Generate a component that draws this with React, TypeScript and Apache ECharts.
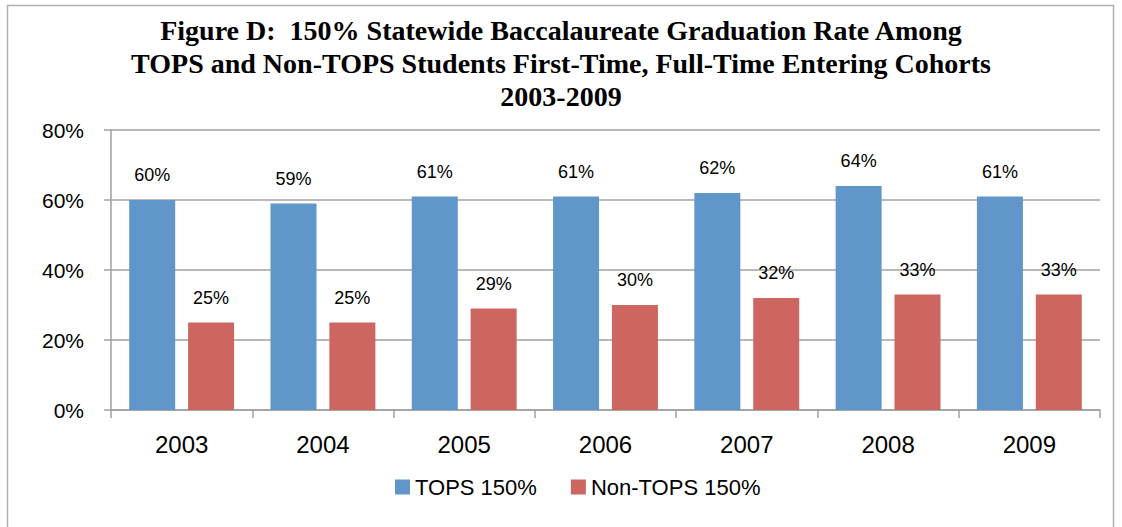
import React, { useEffect, useRef } from "react";
import * as echarts from "echarts";

const categories = ["2003", "2004", "2005", "2006", "2007", "2008", "2009"];
const topsValues = [60, 59, 61, 61, 62, 64, 61];
const nonTopsValues = [25, 25, 29, 30, 32, 33, 33];
const seriesNames = ["TOPS 150%", "Non-TOPS 150%"];
const titleText =
  "Figure D:  150% Statewide Baccalaureate Graduation Rate Among\nTOPS and Non-TOPS Students First-Time, Full-Time Entering Cohorts\n2003-2009";

export default function App() {
  const ref = useRef<HTMLDivElement>(null);
  useEffect(() => {
    document.body.style.margin = "0";
    const chart = echarts.init(ref.current!, null, { renderer: "svg" });
    const gray = "#a0a0a0";
    const labelStyle = {
      show: true,
      position: "top" as const,
      distance: 16,
      formatter: "{c}%",
      fontFamily: "Liberation Sans",
      fontSize: 18,
      color: "#000",
    };
    chart.setOption({
      animation: false,
      backgroundColor: "#fff",
      graphic: [
        {
          type: "rect",
          shape: { x: 7.5, y: 5.5, width: 1106, height: 540 },
          style: { fill: "none", stroke: "#b0b0b0", lineWidth: 1.5 },
          silent: true,
        },
        {
          type: "text",
          x: 561,
          y: 14,
          silent: true,
          style: {
            text: titleText,
            align: "center",
            verticalAlign: "top",
            fontFamily: "Liberation Serif",
            fontWeight: "bold",
            fontSize: 28,
            lineHeight: 33,
            fill: "#000",
          },
        },
      ],
      legend: {
        data: seriesNames,
        top: 471,
        left: 390,
        itemWidth: 15,
        itemHeight: 15,
        itemGap: 34,
        icon: "rect",
        textStyle: { fontFamily: "Liberation Sans", fontSize: 22, color: "#000" },
      },
      grid: { left: 111, right: 22, top: 130, bottom: 117, containLabel: false },
      xAxis: {
        type: "category",
        data: categories,
        axisLine: { lineStyle: { color: gray, width: 1.5 } },
        axisTick: { show: true, alignWithLabel: false, length: 8, lineStyle: { color: gray, width: 1.5 } },
        axisLabel: { fontFamily: "Liberation Sans", fontSize: 24, color: "#000", margin: 22, lineHeight: 24 },
      },
      yAxis: {
        type: "value",
        min: 0,
        max: 80,
        interval: 20,
        axisLine: { show: true, lineStyle: { color: gray, width: 1.5 } },
        axisTick: { show: true, length: 7, lineStyle: { color: gray, width: 1.5 } },
        axisLabel: { formatter: "{value}%", fontFamily: "Liberation Sans", fontSize: 21, color: "#000", margin: 27 },
        splitLine: { show: true, lineStyle: { color: gray, width: 1.5 } },
      },
      series: [
        {
          name: seriesNames[0],
          type: "bar",
          data: topsValues,
          barWidth: 46,
          barGap: "28%",
          itemStyle: { color: "#6096CA" },
          label: labelStyle,
        },
        {
          name: seriesNames[1],
          type: "bar",
          data: nonTopsValues,
          barWidth: 46,
          barGap: "28%",
          itemStyle: { color: "#CD6661" },
          label: labelStyle,
        },
      ],
    });
    return () => chart.dispose();
  }, []);
  return <div ref={ref} style={{ position: "absolute", left: 0, top: 0, width: 1122, height: 527 }} />;
}
